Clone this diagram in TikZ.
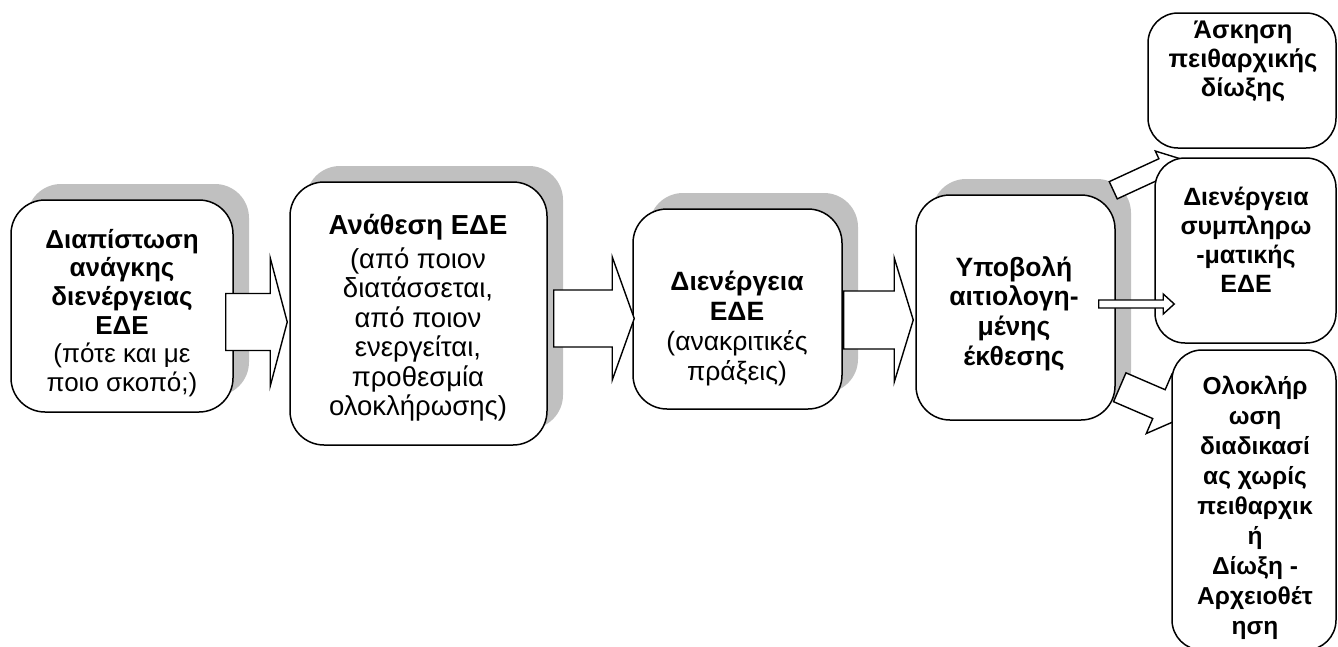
\documentclass[tikz,border=0pt]{standalone}
\usepackage{fontspec}
\setmainfont{Liberation Sans}
\usetikzlibrary{calc,shadows}
\definecolor{shadowgray}{RGB}{192,192,192}
\tikzset{
  box/.style={draw=black, fill=white, line width=1.5pt, rounded corners=34pt, inner sep=0pt},
  sbox/.style={draw=black, fill=white, line width=1.5pt, rounded corners=30pt, inner sep=0pt},
  shadowed/.style={drop shadow={shadow xshift=16pt, shadow yshift=16pt, fill=shadowgray, opacity=1}},
  txt/.style={align=center, inner sep=0pt},
  blockarrow/.style={draw=black, fill=white, line width=1.4pt, line join=miter},
}
\newcommand{\blockarr}[5]{%
  \coordinate (hb) at ($(#2)!#5!(#1)$);
  \draw[blockarrow] ($(#1)!#3!90:(#2)$) -- ($(hb)!#3!90:(#2)$) -- ($(hb)!#4!90:(#2)$)
    -- (#2) -- ($(hb)!#4!-90:(#2)$) -- ($(hb)!#3!-90:(#2)$) -- ($(#1)!#3!-90:(#2)$) -- cycle;
}
\begin{document}
\begin{tikzpicture}[x=1pt,y=-1pt]
\useasboundingbox (0,0) rectangle (1338,646);
% main boxes with shadows
\node[box, shadowed, minimum width=222pt, minimum height=212pt] (b1) at (122,306) {};
\node[box, shadowed, minimum width=257pt, minimum height=263pt] (b2) at (418.5,313.5) {};
\node[box, shadowed, minimum width=209pt, minimum height=200pt] (b3) at (737.5,309) {};
\node[box, shadowed, minimum width=199pt, minimum height=225pt] (b4) at (1015.5,307.5) {};
% main arrows
\coordinate (a1s) at ($(b1.east)+(-8,16)$);
\coordinate (a1e) at ($(b2.west)+(-2,8.5)$);
\blockarr{a1s}{a1e}{28.5pt}{64pt}{17pt}
\coordinate (a2s) at ($(b2.east)+(6,5)$);
\coordinate (a2e) at ($(b3.west)+(2,9.5)$);
\blockarr{a2s}{a2e}{28.5pt}{61.5pt}{22pt}
\coordinate (a3s) at ($(b3.east)+(1,11)$);
\coordinate (a3e) at ($(b4.west)+(-2,12.5)$);
\blockarr{a3s}{a3e}{29pt}{62pt}{19pt}
% right side
\coordinate (aAs) at ($(b4.north east)+(-2.5,-4)$);
\coordinate (aAe) at (1181,159);
\blockarr{aAs}{aAe}{9.5pt}{18pt}{20pt}
\coordinate (aCs) at ($(b4.south east)+(4,-33.5)$);
\coordinate (aCe) at (1186.5,416);
\blockarr{aCs}{aCe}{15.7pt}{32pt}{30pt}
\node[sbox, minimum width=188pt, minimum height=135pt] (bA) at (1242,80.5) {};
\node[sbox, minimum width=181pt, minimum height=185pt] (bB) at (1245.5,250.5) {};
\node[sbox, minimum width=164pt, minimum height=300pt] (bC) at (1254,500) {};
\coordinate (aBs) at ($(b4.east)+(-17,-3.5)$);
\coordinate (aBe) at ($(bB.west)+(20,53.5)$);
\blockarr{aBs}{aBe}{4pt}{10pt}{11pt}
% texts
\node[txt, font=\fontsize{26}{28.6}\selectfont] (t1) at (122,313) {\textbf{Διαπίστωση}\\\textbf{ανάγκης}\\\textbf{διενέργειας}\\\textbf{ΕΔΕ}\\(πότε και με\\ποιο σκοπό;)};
\node[txt, font=\fontsize{27.5}{29.5}\selectfont] (t2) at (418,318) {\textbf{Ανάθεση ΕΔΕ}\\[4pt](από ποιον\\διατάσσεται,\\από ποιον\\ενεργείται,\\προθεσμία\\ολοκλήρωσης)};
\node[txt, font=\fontsize{26.5}{30}\selectfont] (t3) at (737,328) {\textbf{Διενέργεια}\\\textbf{ΕΔΕ}\\(ανακριτικές\\πράξεις)};
\node[txt, font=\bfseries\fontsize{26.5}{29.7}\selectfont] (t4) at (1014,313.5) {Υποβολή\\αιτιολογη-\\μένης\\έκθεσης};
\node[txt, font=\bfseries\fontsize{25.5}{29}\selectfont] (tA) at (1243,61) {Άσκηση\\πειθαρχικής\\δίωξης};
\node[txt, font=\bfseries\fontsize{25}{29}\selectfont] (tB) at (1246,240) {Διενέργεια\\συμπληρω\\-ματικής\\ΕΔΕ};
\node[txt, font=\bfseries\fontsize{24.5}{30}\selectfont] (tC) at (1255,508) {Ολοκλήρ\\ωση\\διαδικασί\\ας χωρίς\\πειθαρχικ\\ή\\Δίωξη -\\Αρχειοθέτ\\ηση};
\end{tikzpicture}
\end{document}
